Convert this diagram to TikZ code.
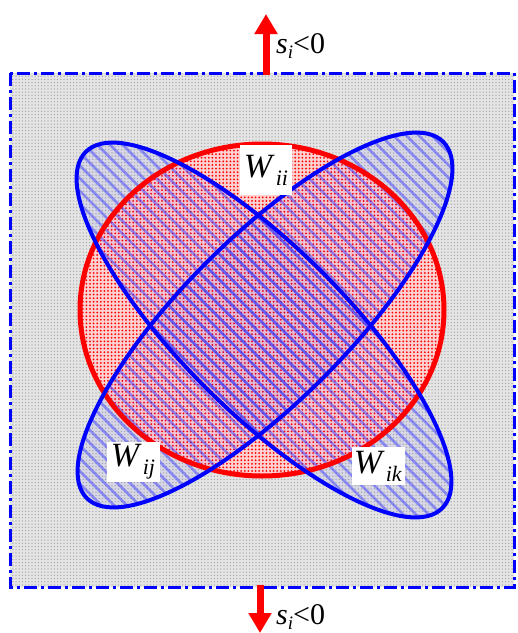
\documentclass[tikz,border=0pt]{standalone}
\usepackage{fontspec}
\setmainfont{Liberation Serif}
\usetikzlibrary{patterns.meta,arrows.meta}
\tikzset{
  lbl/.style={fill=white, inner sep=0pt, font=\fontsize{34}{34}\selectfont},
  flux/.style={red, line width=7pt, -{Triangle[width=22pt,length=20pt]}},
  slbl/.style={inner sep=0pt, anchor=base west, font=\fontsize{30}{30}\selectfont},
  ell/.style={blue, line width=4pt},
  hatch/.style={pattern={Lines[angle=-45,distance=9pt,line width=2.6pt]}, pattern color=blue!75, opacity=0.5},
}
\newcommand{\Wsub}[1]{\textit{W}\kern1pt\raisebox{-8pt}{\fontsize{22}{22}\selectfont\textit{#1}}}
\newcommand{\sneg}{\textit{s}\raisebox{-5pt}{\fontsize{19}{19}\selectfont\textit{i}}<0}
\begin{document}
\begin{tikzpicture}[x=1pt,y=-1pt]
\useasboundingbox (0,0) rectangle (518,633);
% background box
\fill[gray!20] (10,73) rectangle (514,587);
\fill[pattern={Dots[distance=3.2pt,radius=0.75pt]}, pattern color=gray!65] (10,73) rectangle (514,587);
% circle W_ii
\fill[red!18] (262,310) ellipse [x radius=182pt, y radius=166pt];
\fill[pattern={Dots[distance=3.6pt,radius=1pt]}, pattern color=red] (262,310) ellipse [x radius=182pt, y radius=166pt];
% ellipses
\fill[blue, opacity=0.06, rotate around={-45:(264,330)}] (264,330) ellipse [x radius=252pt, y radius=82pt];
\fill[blue, opacity=0.06, rotate around={45:(265,320)}] (265,320) ellipse [x radius=252pt, y radius=82pt];
\fill[hatch, rotate around={-45:(264,330)}] (264,330) ellipse [x radius=252pt, y radius=82pt];
\fill[hatch, rotate around={45:(265,320)}] (265,320) ellipse [x radius=252pt, y radius=82pt];
% outlines
\draw[red, line width=5pt] (262,310) ellipse [x radius=182pt, y radius=166pt];
\draw[ell, rotate around={-45:(264,330)}] (264,330) ellipse [x radius=252pt, y radius=82pt];
\draw[ell, rotate around={45:(265,320)}] (265,320) ellipse [x radius=252pt, y radius=82pt];
% box border
\draw[blue, line width=3pt, dash pattern=on 13pt off 4pt on 3pt off 4pt] (10,73) rectangle (514,587);
% labels
\node[lbl, minimum width=52pt, minimum height=50pt] (wii) at (266,170) {\Wsub{ii}};
\node[lbl, minimum width=53pt, minimum height=40pt] (wij) at (133,462) {\Wsub{ij}};
\node[lbl, minimum width=53pt, minimum height=38pt] (wik) at (378,466) {\Wsub{ik}};
% arrows
\coordinate (t0) at (266,75);
\coordinate (t1) at (266,14);
\coordinate (b0) at (260,585);
\coordinate (b1) at (260,633);
\draw[flux] (t0) -- (t1);
\draw[flux] (b0) -- (b1);
\node[slbl] (stop) at (276,53) {\sneg};
\node[slbl] (sbot) at (276,624) {\sneg};
\end{tikzpicture}
\end{document}
